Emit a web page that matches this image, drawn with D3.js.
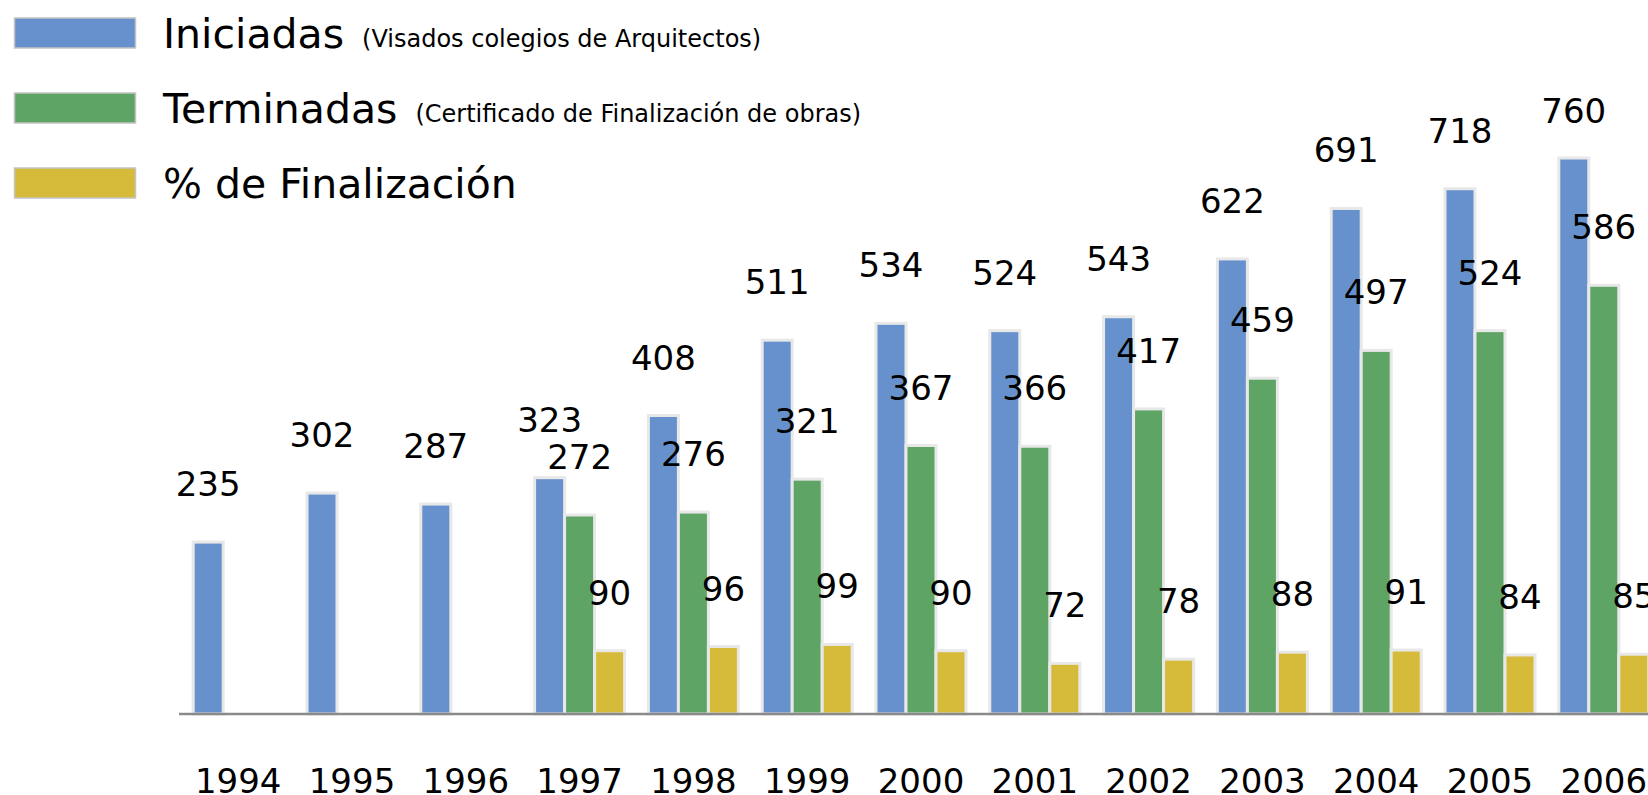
<!DOCTYPE html>
<html>
<head>
<meta charset="utf-8">
<script src="https://cdn.jsdelivr.net/npm/d3@7"></script>
<style>
  body { margin: 0; background: #fff; }
  text { font-family: "DejaVu Sans", Verdana, sans-serif; }
</style>
</head>
<body>
<div id="divGrafico"></div>
<script>
const years = ["1994", "1995", "1996", "1997", "1998", "1999", "2000", "2001", "2002", "2003", "2004", "2005", "2006"];
const iniciadas = [235, 302, 287, 323, 408, 511, 534, 524, 543, 622, 691, 718, 760];
const terminadas = [null, null, null, 272, 276, 321, 367, 366, 417, 459, 497, 524, 586];
const finalizacion = [null, null, null, 90, 96, 99, 90, 72, 78, 88, 91, 84, 85];
const seriesNames = ["Iniciadas", "Terminadas", "% de Finalización"];
const seriesNotes = ["(Visados colegios de Arquitectos)", "(Certificado de Finalización de obras)", ""];
const colors = ["#6691cc", "#5ea465", "#d6bb3a"];

const width = 1648, height = 795;
const baseY = 714;

let svg = d3.select("#divGrafico").append("svg")
    .attr("width", width)
    .attr("height", height);

let x = d3.scaleBand()
    .domain(years)
    .range([193.2, 1648.8])
    .paddingInner(0.209)
    .paddingOuter(0);

let xSub = d3.scaleBand()
    .domain([0, 1, 2])
    .range([0, x.bandwidth()]);

// eje principal (viviendas) y secundario (%)
let y = d3.scaleLinear().domain([0, 760]).range([baseY, baseY - 556]);
let yPct = d3.scaleLinear().domain([0, 100]).range([baseY, baseY - 70.3]);

let series = [iniciadas, terminadas, finalizacion];
let scales = [y, y, yPct];

let bars = [];
series.forEach((vals, s) => {
    vals.forEach((v, i) => {
        if (v !== null) bars.push({ s: s, year: years[i], v: v });
    });
});

svg.append("g").selectAll("rect")
    .data(bars)
    .join("rect")
    .attr("x", d => x(d.year) + xSub(d.s))
    .attr("y", d => scales[d.s](d.v))
    .attr("width", xSub.bandwidth())
    .attr("height", d => baseY - scales[d.s](d.v))
    .attr("fill", d => colors[d.s])
    .attr("stroke", "#e8e8e8")
    .attr("stroke-width", 3);

svg.append("line")
    .attr("x1", 179)
    .attr("x2", width)
    .attr("y1", baseY)
    .attr("y2", baseY)
    .attr("stroke", "#8a8a8a")
    .attr("stroke-width", 2.5);

// etiquetas de valores (no suben por encima del borde del área)
svg.append("g").selectAll("text")
    .data(bars)
    .join("text")
    .attr("x", d => x(d.year) + xSub(d.s) + xSub.bandwidth() / 2)
    .attr("y", d => Math.max(scales[d.s](d.v) - 46, 123))
    .attr("text-anchor", "middle")
    .attr("font-size", 34)
    .attr("fill", "#000")
    .text(d => d.v);

// etiquetas de años
svg.append("g").selectAll("text")
    .data(years)
    .join("text")
    .attr("x", d => x(d) + x.bandwidth() / 2)
    .attr("y", 793)
    .attr("text-anchor", "middle")
    .attr("font-size", 34)
    .text(d => d);

// leyenda
let legend = svg.append("g");
seriesNames.forEach((name, i) => {
    let g = legend.append("g").attr("transform", `translate(0, ${i * 75})`);
    g.append("rect")
        .attr("x", 14.5)
        .attr("y", 18)
        .attr("width", 121)
        .attr("height", 30)
        .attr("fill", colors[i])
        .attr("stroke", "#c4c4c4")
        .attr("stroke-width", 1.5);
    let t = g.append("text")
        .attr("x", 163)
        .attr("y", 48)
        .attr("font-size", 41)
        .text(name);
    if (seriesNotes[i]) {
        let w = t.node().getComputedTextLength();
        g.append("text")
            .attr("x", 163 + w + 18)
            .attr("y", 47)
            .attr("font-size", 24)
            .text(seriesNotes[i]);
    }
});
</script>
</body>
</html>
